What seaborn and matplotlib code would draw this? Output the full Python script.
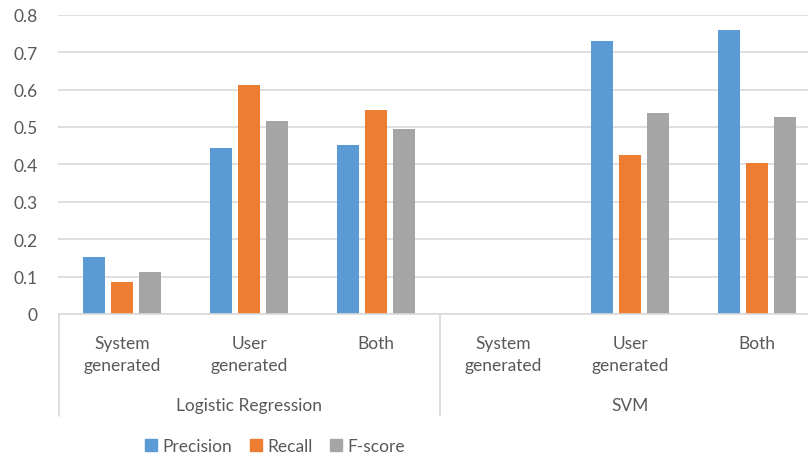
import matplotlib
matplotlib.use("Agg")
import matplotlib.pyplot as plt
import matplotlib.transforms as mtransforms
from matplotlib.patches import Patch
import seaborn as sns
import pandas as pd

# donnees
modeles = ["Logistic Regression", "SVM"]
features = ["System\ngenerated", "User\ngenerated", "Both"]
metriques = ["Precision", "Recall", "F-score"]
precision = [0.153, 0.444, 0.452, 0.0, 0.729, 0.759]
recall = [0.086, 0.612, 0.546, 0.0, 0.425, 0.403]
fscore = [0.111, 0.515, 0.495, 0.0, 0.537, 0.526]
couleurs = ["#5B9BD5", "#ED7D31", "#A5A5A5"]

cles = [m + "|" + f for m in modeles for f in features]
lignes = []
for i, k in enumerate(cles):
    for met, vals in zip(metriques, [precision, recall, fscore]):
        lignes.append({"cat": k, "metrique": met, "valeur": vals[i]})
df = pd.DataFrame(lignes)

sns.set_style("white")
plt.rcParams['font.family'] = ['Lato', 'DejaVu Sans']
gris_txt = "#595959"
gris_ligne = "#D9D9D9"

fig = plt.figure(figsize=(8.08, 4.6), dpi=100)
ax = fig.add_axes([58.5 / 808, 145 / 460, 1 - 58.5 / 808, (315 - 15.7) / 460])

sns.barplot(data=df, x="cat", y="valeur", hue="metrique", order=cles,
            hue_order=metriques, palette=couleurs, width=0.661, gap=0.214,
            linewidth=0, saturation=1, legend=False, ax=ax, errorbar=None)

ax.set_ylim(0, 0.8)
ax.set_xlim(-0.5, 5.4)
ax.set_yticks([i / 10 for i in range(9)])
ax.set_yticklabels(["0"] + ["%.1f" % (i / 10) for i in range(1, 9)])
ax.yaxis.grid(True, color=gris_ligne, linewidth=1.2)
ax.set_axisbelow(True)
for s in ["left", "right", "top"]:
    ax.spines[s].set_visible(False)
ax.spines["bottom"].set_color(gris_ligne)
ax.spines["bottom"].set_linewidth(1.2)
ax.tick_params(axis="y", length=0, pad=15, labelsize=12.5, labelcolor=gris_txt)
ax.tick_params(axis="x", length=0, pad=15, labelsize=12.5, labelcolor=gris_txt)
ax.set_xticks(range(len(cles)))
ax.set_xticklabels(features * len(modeles), va="top", linespacing=1.5)
ax.set_xlabel("")
ax.set_ylabel("")

# niveau des modeles + separateurs
trans = mtransforms.blended_transform_factory(ax.transData, ax.transAxes)
bas = -(417 - 315) / (315 - 15.7)
for j, m in enumerate(modeles):
    ax.text(3 * j + 1, -(406 - 315) / (315 - 15.7), m, transform=trans,
            ha="center", va="center", fontsize=12.5, color=gris_txt)
for xs in [-0.5, 2.5, 5.5]:
    ax.plot([xs, xs], [0, bas], transform=trans, color=gris_ligne,
            linewidth=1.2, clip_on=False)

poignees = [Patch(color=c, label=m) for c, m in zip(couleurs, metriques)]
fig.legend(handles=poignees, loc="center", bbox_to_anchor=(275 / 808, 1 - 447 / 460),
           ncol=3, frameon=False, fontsize=12.5, labelcolor=gris_txt,
           handlelength=0.7, handleheight=0.7, handletextpad=0.3, columnspacing=1.0)

fig.savefig("out.png", dpi=100)
